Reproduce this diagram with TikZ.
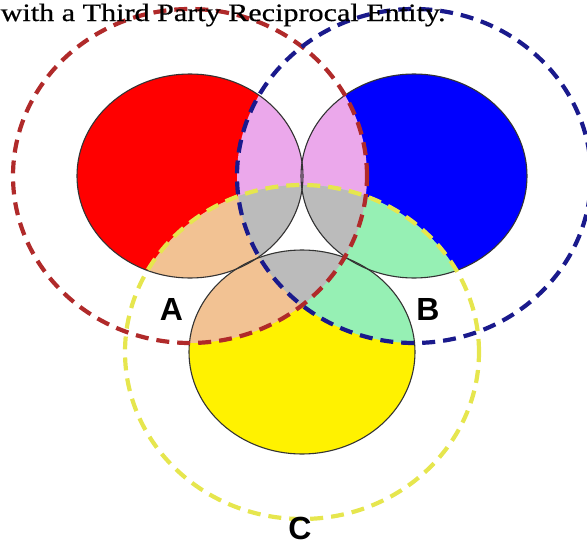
\documentclass[tikz,border=0pt]{standalone}
\usepackage{fontspec}
\newfontfamily\titlefont[FakeStretch=1.205,FakeBold=0.5]{Liberation Serif}
\newfontfamily\labelfont{Liberation Sans}
\definecolor{rosaAB}{HTML}{EBA8EB}
\definecolor{salmonAC}{HTML}{F2C293}
\definecolor{verdeBC}{HTML}{96F0B4}
\definecolor{grisABC}{HTML}{BBBBBB}
\definecolor{rojoA}{HTML}{B02A2A}
\definecolor{azulB}{HTML}{1A1A8C}
\definecolor{amarilloC}{HTML}{E6E64E}

\begin{document}
\begin{tikzpicture}[x=1pt,y=-1pt,
  chico/.style={x radius=113pt,y radius=102pt},
  grande/.style={x radius=177pt,y radius=167pt},
  borde/.style={line width=1.1pt,black!80},
  raya/.style={line width=4.2pt,dash pattern=on 13pt off 8pt},
  letra/.style={font=\labelfont\bfseries\fontsize{32}{38}\selectfont,inner sep=0pt}]
  \useasboundingbox (0,0) rectangle (587,546);
  \clip (0,0) rectangle (587,546);
  \coordinate (cA) at (190,176);
  \coordinate (cB) at (414,176);
  \coordinate (cC) at (302,352);
  % circulo A
  \fill[red] (cA) ellipse [chico];
  \begin{scope}
    \clip (cA) ellipse [chico];
    \fill[rosaAB] (cB) ellipse [grande];
    \fill[salmonAC] (cC) ellipse [grande];
    \clip (cB) ellipse [grande];
    \fill[grisABC] (cC) ellipse [grande];
  \end{scope}
  % circulo B
  \fill[blue] (cB) ellipse [chico];
  \begin{scope}
    \clip (cB) ellipse [chico];
    \fill[rosaAB] (cA) ellipse [grande];
    \fill[verdeBC] (cC) ellipse [grande];
    \clip (cA) ellipse [grande];
    \fill[grisABC] (cC) ellipse [grande];
  \end{scope}
  % circulo C
  \fill[yellow] (cC) ellipse [chico];
  \begin{scope}
    \clip (cC) ellipse [chico];
    \fill[salmonAC] (cA) ellipse [grande];
    \fill[verdeBC] (cB) ellipse [grande];
    \clip (cA) ellipse [grande];
    \fill[grisABC] (cB) ellipse [grande];
  \end{scope}
  % bordes
  \draw[borde] (cA) ellipse [chico];
  \draw[borde] (cB) ellipse [chico];
  \draw[borde] (cC) ellipse [chico];
  % circulos de trazos
  \draw[raya,rojoA] (cA) ellipse [grande];
  \draw[raya,azulB] (cB) ellipse [grande];
  \draw[raya,amarilloC] (cC) ellipse [grande];
  % letras
  \node[letra] (letA) at (171.5,309.5) {A};
  \node[letra] (letB) at (428,309) {B};
  \node[letra,anchor=base] (letC) at (300,539) {C};
  \node[font=\titlefont\fontsize{25}{30}\selectfont,anchor=base west,inner sep=0pt] (titulo) at (0.5,21) {with a Third Party Reciprocal Entity.};
\end{tikzpicture}
\end{document}
